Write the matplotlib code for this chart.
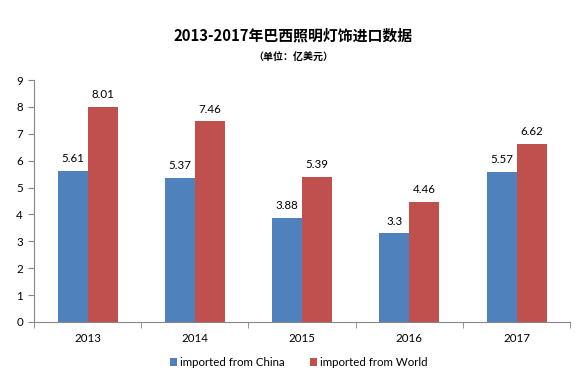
import matplotlib
matplotlib.use("Agg")
import matplotlib.pyplot as plt
import numpy as np

plt.rcParams['font.family'] = ['Noto Sans CJK SC', 'DejaVu Sans']

years = ["2013", "2014", "2015", "2016", "2017"]
china = [5.61, 5.37, 3.88, 3.3, 5.57]
world = [8.01, 7.46, 5.39, 4.46, 6.62]
china_labels = ["5.61", "5.37", "3.88", "3.3", "5.57"]
world_labels = ["8.01", "7.46", "5.39", "4.46", "6.62"]

LAT = ['Lato', 'DejaVu Sans']
fs = 8.3

fig = plt.figure(figsize=(5.86, 3.81), dpi=100)
ax = fig.add_axes([0.058, 0.155, 0.915, 0.635])

x = np.arange(len(years))
w = 0.28
blue = "#4F81BD"
red = "#C0504D"
b1 = ax.bar(x - w/2, china, w, color=blue, label="imported from China")
b2 = ax.bar(x + w/2, world, w, color=red, label="imported from World")

for xi, v, lab in zip(x, china, china_labels):
    ax.text(xi - w/2, v + 0.25, lab, ha="center", va="bottom", fontsize=fs, family=LAT)
for xi, v, lab in zip(x, world, world_labels):
    ax.text(xi + w/2, v + 0.25, lab, ha="center", va="bottom", fontsize=fs, family=LAT)

ax.set_xlim(-0.5, len(years) - 0.5)
ax.set_ylim(0, 9)
ax.set_yticks(range(0, 10))
ax.set_xticks(x)
ax.set_xticklabels(years)
ax.set_xticks(np.arange(-0.5, len(years)), minor=True)
ax.tick_params(axis='x', which='major', length=0, pad=8, labelsize=fs)
ax.tick_params(axis='x', which='minor', length=4, color="#868686")
ax.tick_params(axis='y', length=4, color="#868686", labelsize=fs, pad=4)
for lab in ax.get_xticklabels() + ax.get_yticklabels():
    lab.set_family(LAT)

for s in ["top", "right"]:
    ax.spines[s].set_visible(False)
for s in ["left", "bottom"]:
    ax.spines[s].set_color("#868686")
    ax.spines[s].set_linewidth(0.8)

fig.text(0.5, 0.906, "2013-2017年巴西照明灯饰进口数据", ha="center", va="center",
         fontsize=10.7, fontweight="bold")
fig.text(0.5, 0.847, "（单位：亿美元）", ha="center", va="center",
         fontsize=7.2, fontweight="bold")

leg = fig.legend(handles=[b1, b2], loc="center", bbox_to_anchor=(0.51, 0.048),
                 ncol=2, frameon=False, handlelength=0.6,
                 handleheight=0.6, handletextpad=0.3, columnspacing=2.2,
                 prop={'family': LAT, 'size': fs})

fig.savefig("out.png", dpi=100)
